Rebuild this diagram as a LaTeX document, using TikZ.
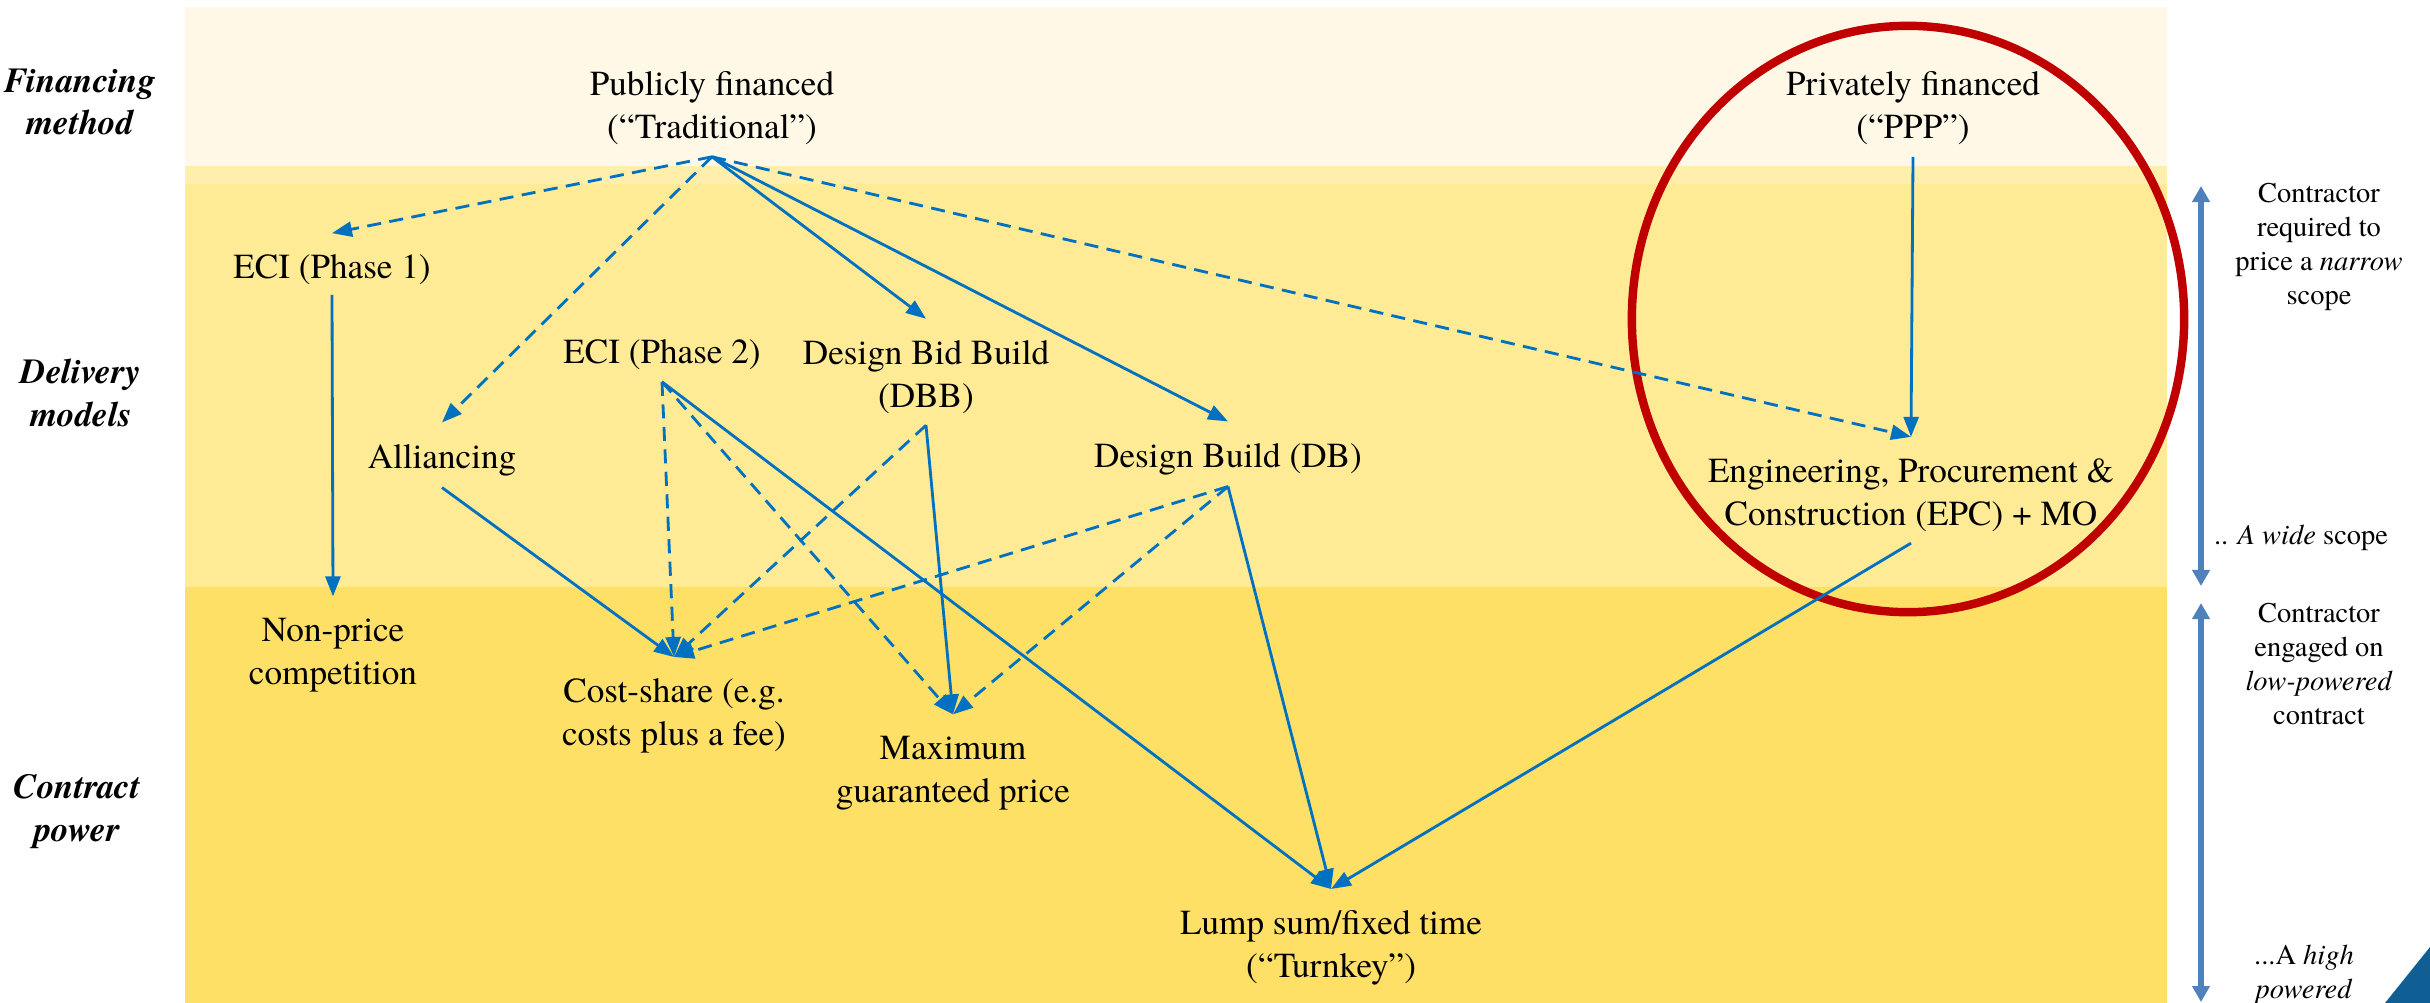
\documentclass[tikz,border=0pt]{standalone}
\usepackage{fontspec}
\setmainfont{texgyretermes}[Extension=.otf, UprightFont=*-regular, BoldFont=*-bold, ItalicFont=*-italic, BoldItalicFont=*-bolditalic]
\usepackage{tikz}
\usetikzlibrary{arrows.meta}

\definecolor{bandtop}{HTML}{FFF8E6}
\definecolor{bandstrip}{HTML}{FFEEAC}
\definecolor{bandmid}{HTML}{FFEA96}
\definecolor{bandlow}{HTML}{FFE066}
\definecolor{linkblue}{HTML}{0070C0}
\definecolor{ringred}{HTML}{C00000}
\definecolor{scopeblue}{HTML}{4F81BD}
\definecolor{cornerblue}{HTML}{0F5F94}

\begin{document}
\begin{tikzpicture}[x=0.01cm, y=-0.01cm,
    model/.style={align=center, inner xsep=2pt, inner ysep=0.21cm, font=\fontsize{10}{12.2}\selectfont},
    rowlbl/.style={align=center, font=\fontsize{10}{12.2}\selectfont\bfseries\itshape},
    sidelbl/.style={align=center, font=\fontsize{8.1}{9.7}\selectfont},
    link/.style={linkblue, line width=0.8pt, -{Triangle[length=2mm, width=1.5mm]}},
    dlink/.style={link, dash pattern=on 4pt off 2.4pt},
    scopearr/.style={scopeblue, line width=1.7pt, {Triangle[length=1.6mm, width=1.7mm]}-{Triangle[length=1.6mm, width=1.7mm]}}]
    \useasboundingbox (0,0) rectangle (2430,1003);

    % Bands
    \fill[bandtop] (185,7) rectangle (2167,166);
    \fill[bandstrip] (185,166) rectangle (2167,184);
    \fill[bandmid] (185,184) rectangle (2167,587);
    \fill[bandlow] (185,587) rectangle (2167,1003);

    % Row labels
    \node[rowlbl] (finlbl) at (80,102) {Financing\\method};
    \node[rowlbl] (dellbl) at (81,393) {Delivery\\models};
    \node[rowlbl] (conlbl) at (77,812) {Contract\\power};

    % Financing method
    \node[model] (pub) at (712,108.5) {Publicly financed\\(“Traditional”)};
    \node[model] (ppp) at (1913,108.5) {Privately financed\\(“PPP”)};

    % Delivery models
    \node[model] (eci1) at (332,270) {ECI (Phase 1)};
    \node[model] (eci2) at (662,355) {ECI (Phase 2)};
    \node[model] (dbb) at (926,377) {Design Bid Build\\(DBB)};
    \node[model] (alli) at (442,460) {Alliancing};
    \node[model] (db) at (1228,459) {Design Build (DB)};
    \node[model] (epc) at (1911,495) {Engineering, Procurement \&\\Construction (EPC) + MO};

    % Contract power
    \node[model] (nonprice) at (333,655) {Non-price\\competition};
    \node[model] (cost) at (674,716) {Cost-share (e.g.\\costs plus a fee)};
    \node[model] (maxp) at (953,773) {Maximum\\guaranteed price};
    \node[model] (lump) at (1331,948) {Lump sum/fixed time\\(“Turnkey”)};

    % PPP ring
    \draw[ringred, line width=2.4pt] (1908,319) ellipse [x radius=2.76cm, y radius=2.93cm];

    % Out ports
    \coordinate (pubout) at ([yshift=1mm]pub.south);
    \coordinate (pppout) at ([yshift=1mm]ppp.south);
    \coordinate (eci1out) at ([yshift=1.2mm]eci1.south);
    \coordinate (eci2out) at ([yshift=1mm]eci2.south);
    \coordinate (dbbout) at ([yshift=1mm]dbb.south);
    \coordinate (alliout) at ([yshift=1mm]alli.south);
    \coordinate (dbout) at ([yshift=1mm]db.south);
    \coordinate (epcout) at ([yshift=1mm]epc.south);

    % Links
    \draw[dlink] (pubout) -- (eci1.north);
    \draw[dlink] (pubout) -- (alli.north);
    \draw[link] (pubout) -- (dbb.north);
    \draw[link] (pubout) -- (db.north);
    \draw[dlink] (pubout) -- (epc.north);
    \draw[link] (pppout) -- (epc.north);
    \draw[link] (eci1out) -- (nonprice.north);
    \draw[link] (alliout) -- (cost.north);
    \draw[dlink] (eci2out) -- (cost.north);
    \draw[dlink] (eci2out) -- (maxp.north);
    \draw[link] (eci2out) -- (lump.north);
    \draw[dlink] (dbbout) -- (cost.north);
    \draw[link] (dbbout) -- (maxp.north);
    \draw[dlink] (dbout) -- (cost.north);
    \draw[dlink] (dbout) -- (maxp.north);
    \draw[link] (dbout) -- (lump.north);
    \draw[link] (epcout) -- (lump.north);

    % Scope and power scales
    \coordinate (narrowtop) at (2201,186);
    \coordinate (narrowbot) at (2201,586);
    \coordinate (powertop) at (2201,603);
    \coordinate (powerbot) at (2201,1002);
    \draw[scopearr] (narrowtop) -- (narrowbot);
    \draw[scopearr] (powertop) -- (powerbot);
    \node[sidelbl] (narrowlbl) at (2319,247) {Contractor\\required to\\price a \textit{narrow}\\scope};
    \node[sidelbl] (widelbl) at (2301,538) {.. \textit{A wide} scope};
    \node[sidelbl] (lowlbl) at (2319,664) {Contractor\\engaged on\\\textit{low-powered}\\contract};
    \node[sidelbl] (highlbl) at (2304,975) {...A \textit{high}\\\textit{powered}};

    % Corner mark
    \fill[cornerblue] (2385,1003) -- (2430,947) -- (2430,1003) -- cycle;
\end{tikzpicture}
\end{document}
